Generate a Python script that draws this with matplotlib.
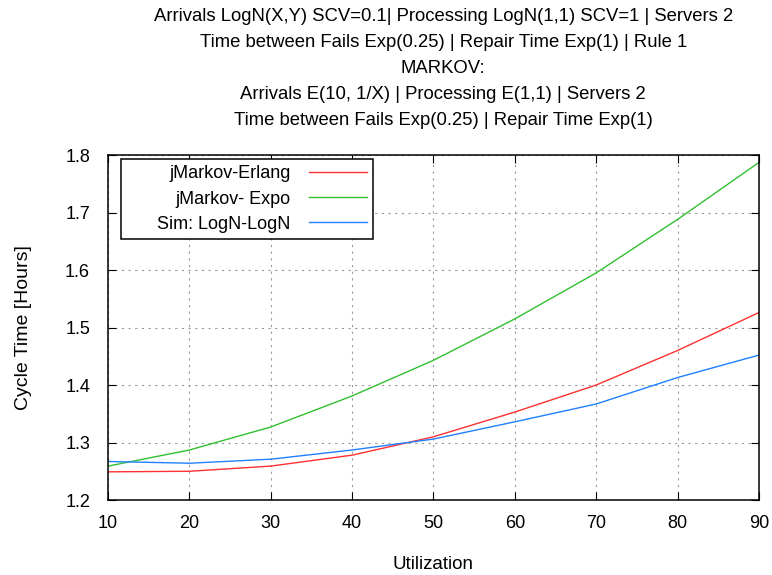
import matplotlib
matplotlib.use("Agg")
import matplotlib.pyplot as plt

plt.rcParams['font.family'] = ['Liberation Sans', 'DejaVu Sans']

utilization = [10, 20, 30, 40, 50, 60, 70, 80, 90]
erlang = [1.249, 1.250, 1.259, 1.278, 1.310, 1.353, 1.400, 1.460, 1.526]
expo = [1.259, 1.287, 1.327, 1.381, 1.443, 1.515, 1.595, 1.688, 1.787]
sim = [1.267, 1.264, 1.271, 1.287, 1.306, 1.336, 1.367, 1.413, 1.452]

title = ("Arrivals LogN(X,Y) SCV=0.1| Processing LogN(1,1) SCV=1 | Servers 2\n"
         "Time between Fails Exp(0.25) | Repair Time Exp(1) | Rule 1\n"
         "MARKOV:\n"
         "Arrivals E(10, 1/X) | Processing E(1,1) | Servers 2\n"
         "Time between Fails Exp(0.25) | Repair Time Exp(1)")

fig = plt.figure(figsize=(7.72, 5.75), dpi=100)
ax = fig.add_axes([0.14, 0.1304, 0.843, 0.6])

ax.plot(utilization, erlang, color='#ff3030', lw=1, label='jMarkov-Erlang')
ax.plot(utilization, expo, color='#30c030', lw=1, label='jMarkov- Expo')
# leading spaces widen the legend box like the original
ax.plot(utilization, sim, color='#2080ff', lw=1, label='      Sim: LogN-LogN')

ax.set_xlim(10, 90)
ax.set_ylim(1.2, 1.8)
ax.set_xticks(range(10, 91, 10))
ax.set_yticks([1.2, 1.3, 1.4, 1.5, 1.6, 1.7, 1.8])
ax.set_yticklabels(['1.2', '1.3', '1.4', '1.5', '1.6', '1.7', '1.8'])
ax.tick_params(direction='in', top=True, right=True, labelsize=13, length=6)
ax.tick_params(axis='y', pad=13)
ax.tick_params(axis='x', pad=11)
ax.grid(True, linestyle=(0, (2, 4)), color='#999999', lw=0.8)
for s in ax.spines.values():
    s.set_linewidth(1.1)

ax.set_xlabel('Utilization', fontsize=13.5, labelpad=17)
ax.set_ylabel('Cycle Time [Hours]', fontsize=14, labelpad=24)
fig.suptitle(title, fontsize=13.3, y=0.986, x=0.574, linespacing=1.7)

leg = ax.legend(loc='upper left', markerfirst=False, fontsize=13, fancybox=False,
                edgecolor='black', framealpha=1, borderpad=0.35, handlelength=3.2,
                handletextpad=1.0, labelspacing=0.45, borderaxespad=0,
                bbox_to_anchor=(0.02, 0.988))
leg.get_frame().set_linewidth(1.1)
for t in leg.get_texts():
    t.set_ha('right')

fig.savefig('out.png', dpi=100)
